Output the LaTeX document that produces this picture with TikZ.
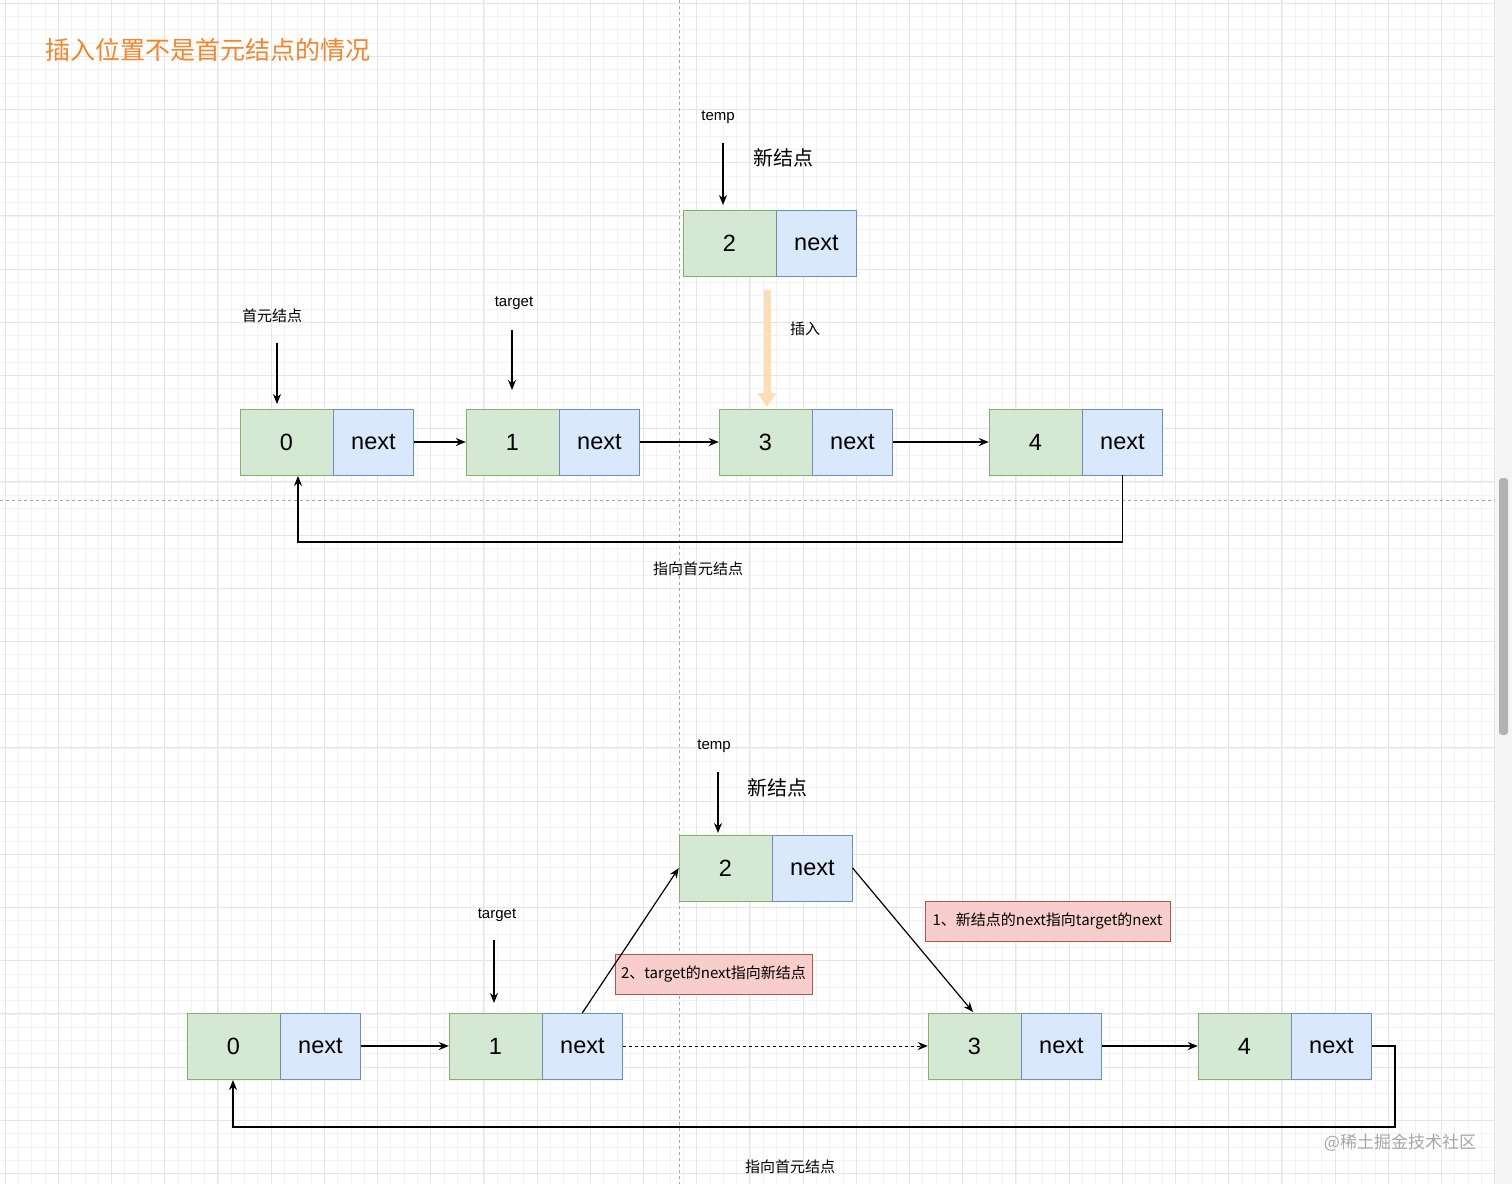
\documentclass[tikz,border=0pt]{standalone}
\usepackage{fontspec}
\setmainfont{Liberation Sans}
\newfontfamily\cjk{Noto Sans CJK SC}
\usetikzlibrary{arrows.meta}
\definecolor{gF}{HTML}{D5E8D4}\definecolor{gD}{HTML}{82B366}
\definecolor{bF}{HTML}{DAE8FC}\definecolor{bD}{HTML}{6C8EBF}
\definecolor{rF}{HTML}{F8CECC}\definecolor{rD}{HTML}{B85450}
\definecolor{ttl}{HTML}{F5842A}\definecolor{ins}{HTML}{FDDDB5}
\tikzset{
 g/.style={draw=gD,fill=gF,minimum width=93pt,minimum height=66pt,inner sep=0,font=\fontsize{23.5}{23.5}\selectfont},
 b/.style={draw=bD,fill=bF,minimum width=80pt,minimum height=66pt,inner sep=0,anchor=west,font=\fontsize{23.5}{23.5}\selectfont},
 lbl/.style={font=\fontsize{15}{15}\selectfont},
 cl/.style={font=\cjk\fontsize{15}{15}\selectfont},
 big/.style={font=\cjk\fontsize{20}{20}\selectfont},
 red/.style={draw=rD,fill=rF,font=\cjk\fontsize{15}{15}\selectfont,inner sep=0,minimum height=40pt},
 ar/.style={-{Stealth[length=10pt,width=8pt]},line width=1.2pt},
}
\begin{document}
\begin{tikzpicture}[x=1pt,y=-1pt]
\useasboundingbox (0,0) rectangle (1512,1184);
\fill[white] (0,0) rectangle (1495,1184);
\fill[black!4] (1495,0) rectangle (1512,1184);
\fill[black!30,rounded corners=3pt] (1499,478) rectangle (1508,735);
\foreach \i in {0,...,112} \draw[black!5,line width=0.6pt] (5+\i*13.3,0) -- (5+\i*13.3,1184);
\foreach \i in {0,...,89} \draw[black!5,line width=0.6pt] (0,3+\i*13.3) -- (1495,3+\i*13.3);
\foreach \i in {0,...,28} \draw[black!10,line width=0.8pt] (5+\i*53.2,0) -- (5+\i*53.2,1184);
\foreach \i in {0,...,22} \draw[black!10,line width=0.8pt] (0,3+\i*53.2) -- (1495,3+\i*53.2);
\draw[black!35,dashed,line width=0.8pt] (679,0) -- (679,1184);
\draw[black!35,dashed,line width=0.8pt] (0,500) -- (1495,500);

\node[font=\cjk\fontsize{25}{25}\selectfont,text=ttl,anchor=west] (title) at (42,50) {插入位置不是首元结点的情况};

% top
\node[g] (ta0) at (286.5,442) {0}; \node[b] (tb0) at (ta0.east) {next};
\node[g] (ta1) at (512.5,442) {1}; \node[b] (tb1) at (ta1.east) {next};
\node[g] (ta3) at (765.5,442) {3}; \node[b] (tb3) at (ta3.east) {next};
\node[g] (ta4) at (1035.5,442) {4}; \node[b] (tb4) at (ta4.east) {next};
\node[g] (ta2) at (729.5,243) {2}; \node[b] (tb2) at (ta2.east) {next};
\node[lbl] (ttemp) at (718,117) {temp};
\node[big] (tnew) at (783,158) {新结点};
\node[cl] (thead) at (272,316) {首元结点};
\node[lbl] (ttarget) at (514,303) {target};
\node[cl] (tins) at (805,329) {插入};
\node[cl] (tback) at (698,569) {指向首元结点};
\coordinate (c1) at (723,143); \coordinate (c2) at (723,205);
\draw[ar] (c1) -- (c2);
\coordinate (c3) at (277,343); \coordinate (c4) at (277,404);
\draw[ar] (c3) -- (c4);
\coordinate (c5) at (512,330); \coordinate (c6) at (512,390);
\draw[ar] (c5) -- (c6);
\coordinate (c7) at (767,290); \coordinate (c8) at (767,407);
\draw[ins,line width=7pt,-{Triangle[length=14pt,width=18pt]}] (c7) -- (c8);
\draw[ar] (tb0.east) -- (ta1.west);
\draw[ar] (tb1.east) -- (ta3.west);
\draw[ar] (tb3.east) -- (ta4.west);
\draw[ar] (tb4.south) |- (298,542) -- (298,476);

% bottom
\node[g] (ba0) at (233.5,1046) {0}; \node[b] (bb0) at (ba0.east) {next};
\node[g] (ba1) at (495.5,1046) {1}; \node[b] (bb1) at (ba1.east) {next};
\node[g] (ba3) at (974.5,1046) {3}; \node[b] (bb3) at (ba3.east) {next};
\node[g] (ba4) at (1244.5,1046) {4}; \node[b] (bb4) at (ba4.east) {next};
\node[g] (ba2) at (725.5,868) {2}; \node[b] (bb2) at (ba2.east) {next};
\node[lbl] (btemp) at (714,746) {temp};
\node[big] (bnew) at (777,788) {新结点};
\node[lbl] (btarget) at (497,915) {target};
\node[cl] (bback) at (790,1167) {指向首元结点};
\node[red,minimum width=245pt] (r1) at (1047.5,921) {1、新结点的next指向target的next};
\node[red,minimum width=197pt] (r2) at (713.5,974.5) {2、target的next指向新结点};
\coordinate (d1) at (718,772); \coordinate (d2) at (718,833);
\draw[ar] (d1) -- (d2);
\coordinate (d3) at (494,940); \coordinate (d4) at (494,1003);
\draw[ar] (d3) -- (d4);
\draw[ar] (bb1.north) -- (ba2.west);
\draw[ar] (bb2.east) -- (973,1012);
\draw[ar,dashed,line width=1pt] (bb1.east) -- (ba3.west);
\draw[ar] (bb0.east) -- (ba1.west);
\draw[ar] (bb3.east) -- (ba4.west);
\draw[ar] (bb4.east) -- (1395,1046) |- (233,1127) -- (233,1080);
\node[font=\cjk\fontsize{17}{17}\selectfont,text=black!35] (wm) at (1400,1143) {@稀土掘金技术社区};
\end{tikzpicture}
\end{document}
